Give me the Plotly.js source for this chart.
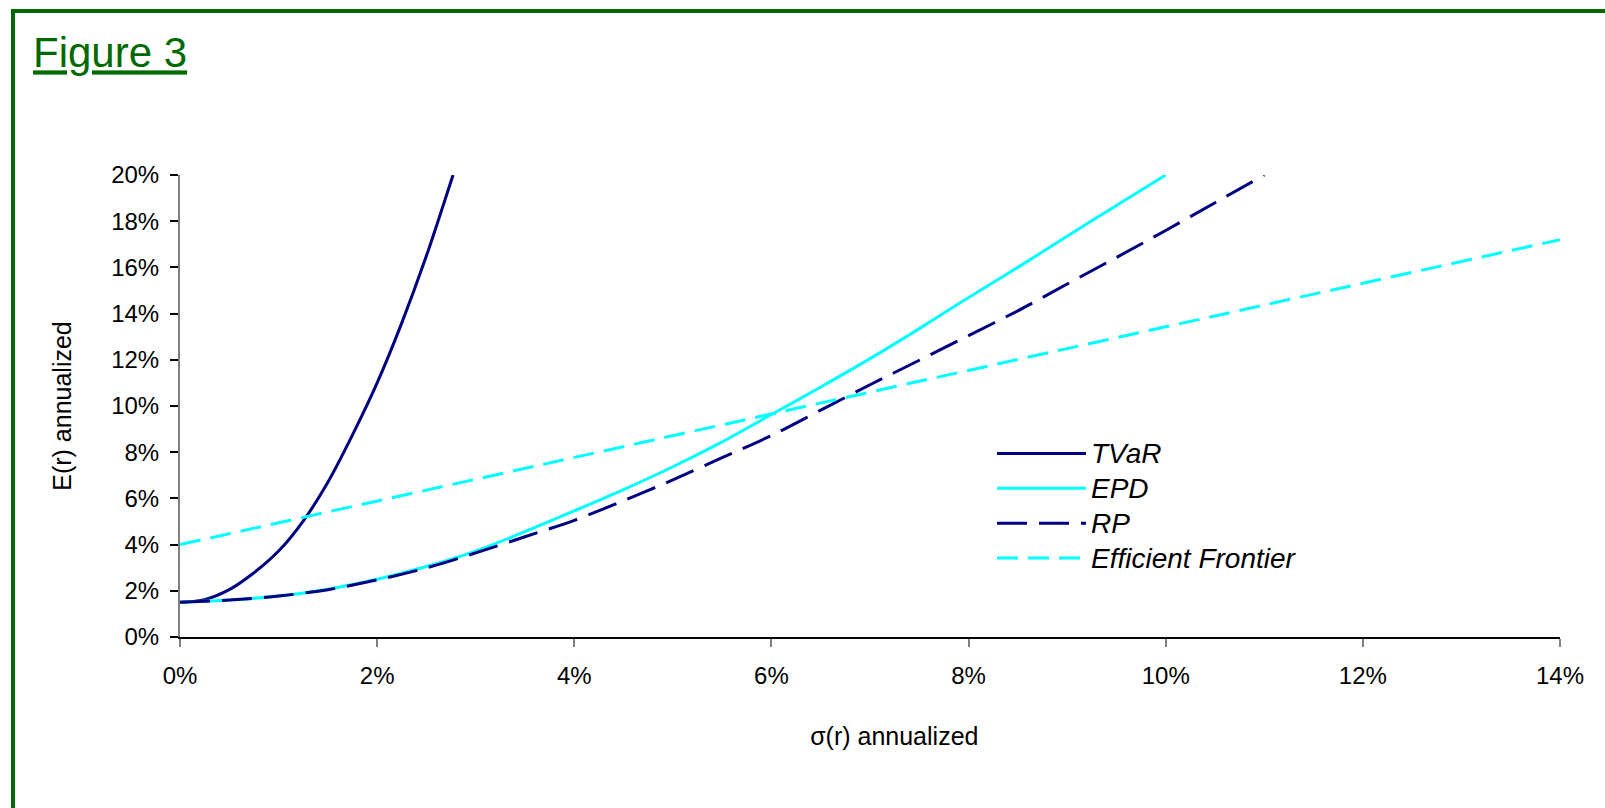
<!DOCTYPE html>
<html><head><meta charset="utf-8">
<script src="https://cdn.plot.ly/plotly-3.0.1.min.js"></script>
<style>
html,body{margin:0;padding:0;overflow:hidden;background:#fff;}
#chart{position:absolute;left:0;top:0;width:1605px;height:808px;}
#frame{position:absolute;left:11px;top:9px;width:1700px;height:900px;border:4px solid #006a00;pointer-events:none;}
</style></head><body>
<div id="chart"></div><div id="frame"></div>
<script>
// sigma(r) annualized, in %
const tvarSigma = [0, 0.25, 0.5, 0.75, 1, 1.25, 1.5, 1.75, 2, 2.25, 2.5, 2.77];
const tvarE     = [1.5, 1.62, 2.05, 2.78, 3.72, 5.02, 6.7, 8.75, 11.0, 13.6, 16.5, 20.0];

const epdSigma = [0, 0.5, 1, 1.5, 2, 2.5, 3, 3.5, 4, 4.5, 5, 5.5, 6, 6.5, 7, 7.5, 8, 8.5, 9, 9.5, 10];
const epdE     = [1.5, 1.6, 1.77, 2.07, 2.5, 3.05, 3.72, 4.56, 5.46, 6.38, 7.37, 8.45, 9.63, 10.82, 12.05, 13.35, 14.7, 16.0, 17.35, 18.68, 20.0];

const rpSigma = [0, 0.5, 1, 1.5, 2, 2.5, 3, 3.5, 4, 4.5, 5, 5.5, 6, 6.5, 7, 7.5, 8, 8.5, 9, 9.5, 10, 10.5, 11];
const rpE     = [1.5, 1.6, 1.77, 2.05, 2.47, 2.99, 3.64, 4.34, 5.05, 5.9, 6.8, 7.76, 8.72, 9.82, 10.92, 11.98, 13.05, 14.12, 15.28, 16.43, 17.6, 18.8, 20.0];

const efSigma = [0, 14];
const efE     = [4.0, 17.2];

const seriesNames = ['TVaR', 'EPD', 'RP', 'Efficient Frontier'];

const xTickVals = [0, 2, 4, 6, 8, 10, 12, 14];
const xTickText = ['0%', '2%', '4%', '6%', '8%', '10%', '12%', '14%'];
const yTickVals = [0, 2, 4, 6, 8, 10, 12, 14, 16, 18, 20];
const yTickText = ['0%', '2%', '4%', '6%', '8%', '10%', '12%', '14%', '16%', '18%', '20%'];

const NAVY = '#000080', CYAN = '#00ffff';
const FONT = 'Liberation Sans, Arial, sans-serif';
const legendName = n => '<span style="font-size:28px">' + n + '</span>';

const traces = [
  {x: tvarSigma, y: tvarE, name: legendName(seriesNames[0]), mode: 'lines',
   line: {color: NAVY, width: 3, shape: 'spline', smoothing: 0.8}},
  {x: epdSigma, y: epdE, name: legendName(seriesNames[1]), mode: 'lines',
   line: {color: CYAN, width: 3, shape: 'spline', smoothing: 0.8}},
  {x: rpSigma, y: rpE, name: legendName(seriesNames[2]), mode: 'lines',
   line: {color: NAVY, width: 3, dash: '30px,12px', shape: 'spline', smoothing: 0.8}},
  {x: efSigma, y: efE, name: legendName(seriesNames[3]), mode: 'lines',
   line: {color: CYAN, width: 3, dash: '21px,10px'}}
];

const layout = {
  width: 1605, height: 808,
  paper_bgcolor: '#ffffff', plot_bgcolor: '#ffffff',
  margin: {l: 180, r: 45, t: 175, b: 171, pad: 0},
  font: {family: FONT, color: '#000000', size: 24},
  title: {
    text: '<span style="text-decoration:underline">Figure 3</span>',
    font: {family: FONT, size: 42, color: '#006a00'},
    xref: 'container', yref: 'container',
    x: 33/1605, xanchor: 'left',
    y: 1 - 38/808, yanchor: 'top'
  },
  showlegend: true,
  legend: {
    x: (992-180)/1380, xanchor: 'left',
    y: (637-431)/462, yanchor: 'top',
    font: {family: FONT, size: 24.5, color: '#000000', style: 'italic'},
    bgcolor: 'rgba(0,0,0,0)', borderwidth: 0,
    itemwidth: 89, tracegroupgap: 0
  },
  xaxis: {
    range: [0, 14], tickvals: xTickVals, ticktext: xTickText,
    showgrid: false, zeroline: false,
    showline: true, linecolor: '#000000', linewidth: 2,
    ticks: 'outside', ticklen: 8, tickwidth: 2, tickcolor: '#808080',
    tickfont: {family: FONT, size: 24, color: '#000000'},
    ticklabelstandoff: 8,
    title: {text: '&nbsp;&nbsp;&nbsp;&nbsp;&nbsp;&nbsp;&nbsp;σ(r) annualized', font: {family: FONT, size: 25, color: '#000000'}, standoff: 40}
  },
  yaxis: {
    range: [0, 20], tickvals: yTickVals, ticktext: yTickText,
    showgrid: false, zeroline: false,
    showline: true, linecolor: '#808080', linewidth: 2,
    ticks: 'outside', ticklen: 8, tickwidth: 2, tickcolor: '#000000',
    tickfont: {family: FONT, size: 24, color: '#000000'},
    ticklabelstandoff: 6,
    title: {text: 'E(r) annualized', font: {family: FONT, size: 25, color: '#000000'}, standoff: 32}
  }
};

Plotly.newPlot('chart', traces, layout, {displayModeBar: false, staticPlot: true});
</script>
</body></html>
